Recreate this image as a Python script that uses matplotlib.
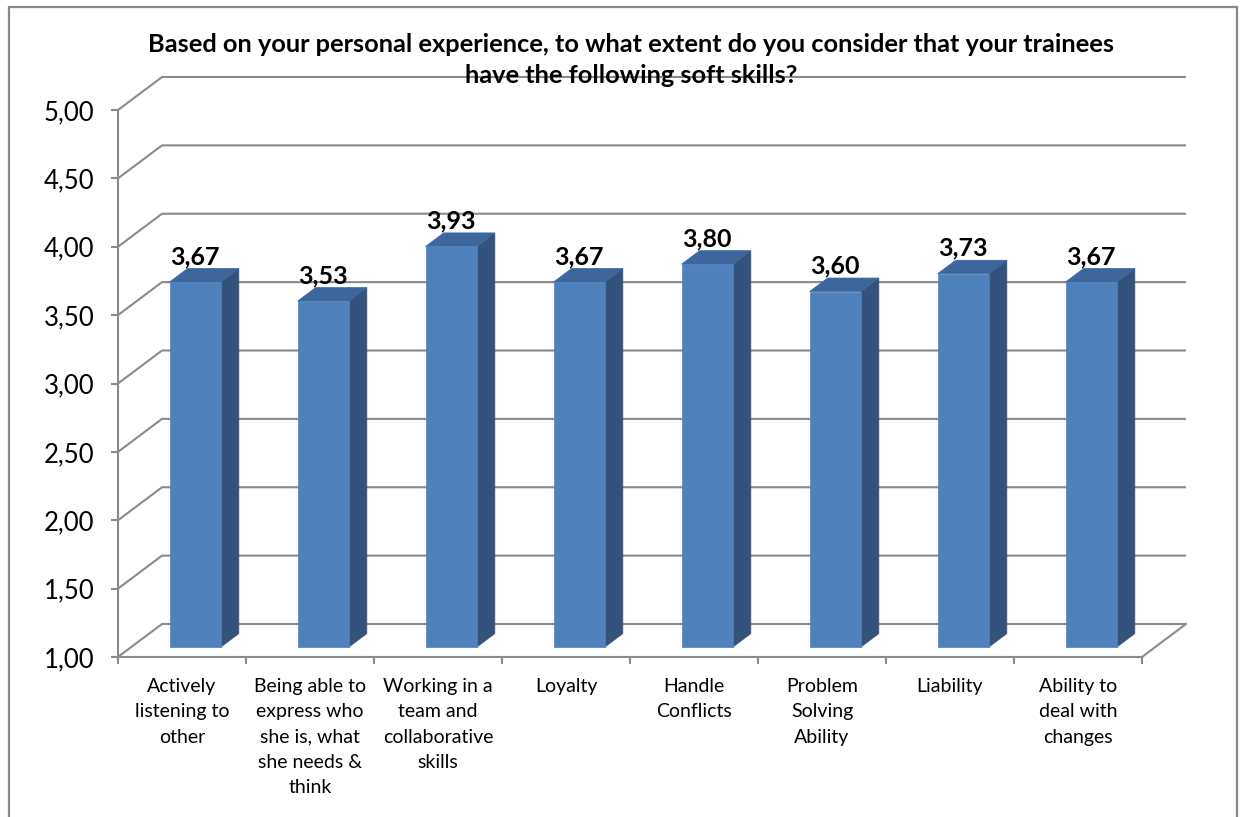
import matplotlib.pyplot as plt
from matplotlib.patches import Polygon, Rectangle

plt.rcParams['font.family'] = ['Lato', 'DejaVu Sans']

# Survey results: average score per soft skill
skills = [
    "Actively\nlistening to\nother",
    "Being able to\nexpress who\nshe is, what\nshe needs &\nthink",
    "Working in a\nteam and\ncollaborative\nskills",
    "Loyalty",
    "Handle\nConflicts",
    "Problem\nSolving\nAbility",
    "Liability",
    "Ability to\ndeal with\nchanges",
]
scores = [3.67, 3.53, 3.93, 3.67, 3.80, 3.60, 3.73, 3.67]
y_ticks = [1.0, 1.5, 2.0, 2.5, 3.0, 3.5, 4.0, 4.5, 5.0]
y_tick_labels = ["1,00", "1,50", "2,00", "2,50", "3,00", "3,50", "4,00", "4,50", "5,00"]

title = ("Based on your personal experience, to what extent do you consider that your trainees\n"
         "have the following soft skills?")

GRID = "#8a8a8a"
FRONT = "#4f81bd"
TOP = "#3d679c"
SIDE = "#31537e"

W, H = 1244, 817
fig = plt.figure(figsize=(W / 100, H / 100), dpi=100)
ax = fig.add_axes([118 / W, (H - 657) / H, 1024 / W, 547 / H])
n = len(skills)
ax.set_xlim(0, n)
ax.set_ylim(1, 5)

# depth of the 3D box (pixels) converted to data units
x0, y0 = ax.transData.transform((0, 1))
bx, by = ax.transData.inverted().transform((x0 + 44, y0 + 33))
ddx, ddy = bx - 0, by - 1


def pt(x, v, d):
    return (x + d * ddx, v + d * ddy)


# back wall gridlines with the left-side diagonals
for v in y_ticks:
    ax.plot(*zip(pt(0, v, 0), pt(0, v, 1), pt(n, v, 1)), color=GRID, lw=1.5,
            clip_on=False, zorder=1, solid_capstyle='butt')
# floor: right edge
ax.plot(*zip(pt(n, 1, 0), pt(n, 1, 1)), color=GRID, lw=1.5, clip_on=False, zorder=1)

# 3D columns
bw = 0.4
d0, d1 = 0.3, 0.71
for i, v in enumerate(scores):
    xl = i + 0.5 - bw / 2
    xr = i + 0.5 + bw / 2
    front = [pt(xl, 1, d0), pt(xr, 1, d0), pt(xr, v, d0), pt(xl, v, d0)]
    side = [pt(xr, 1, d0), pt(xr, 1, d1), pt(xr, v, d1), pt(xr, v, d0)]
    top = [pt(xl, v, d0), pt(xr, v, d0), pt(xr, v, d1), pt(xl, v, d1)]
    for poly, c in ((side, SIDE), (top, TOP), (front, FRONT)):
        ax.add_patch(Polygon(poly, closed=True, facecolor=c, edgecolor=c, lw=0.5,
                             clip_on=False, zorder=2))
    lx, ly = pt(i + 0.5, v, d0)
    ax.annotate(f"{v:.2f}".replace(".", ","), (lx, ly), xytext=(0, 18),
                textcoords='offset pixels', ha='center', va='baseline',
                fontsize=18, fontweight='bold', zorder=3)

# axes styling
for s in ('top', 'right'):
    ax.spines[s].set_visible(False)
for s in ('left', 'bottom'):
    ax.spines[s].set_color(GRID)
    ax.spines[s].set_linewidth(1.5)
ax.set_yticks(y_ticks)
ax.set_yticklabels(y_tick_labels, fontsize=18.5)
ax.tick_params(axis='y', length=5, width=1.5, color=GRID, pad=12)
ax.set_xticks(range(n + 1))
ax.set_xticklabels([])
ax.tick_params(axis='x', which='major', length=5, width=1.5, color=GRID, direction='out')
ax.set_xticks([i + 0.5 for i in range(n)], minor=True)
ax.set_xticklabels(skills, minor=True, fontsize=14, linespacing=1.6)
ax.tick_params(axis='x', which='minor', length=0, pad=15)
ax.set_facecolor('none')

fig.text(631 / W, 1 - 33 / H, title, ha='center', va='top', fontsize=18.3,
         fontweight='bold', linespacing=1.4, zorder=5)

# outer chart border
fig.patches.append(Rectangle((9 / W, -0.02), (1237 - 9) / W, 1.02 - 7 / H,
                             transform=fig.transFigure, fill=False,
                             edgecolor="#898989", lw=1.6))

fig.savefig("out.png", dpi=100)
